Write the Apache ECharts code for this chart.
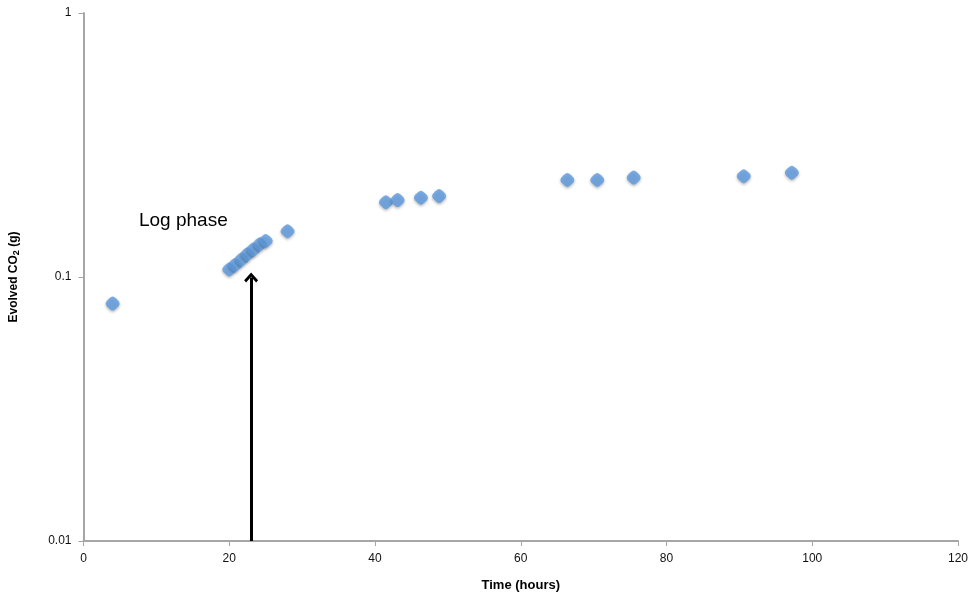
<!DOCTYPE html>
<html>
<head>
<meta charset="utf-8">
<script src="https://cdn.jsdelivr.net/npm/echarts@6/dist/echarts.min.js"></script>
<style>
  html, body { margin: 0; padding: 0; background: #fff; }
  #chart { width: 975px; height: 602px; }
</style>
</head>
<body>
<div id="chart"></div>
<script>
// time (hours) vs evolved CO2 (g)
const hours = [4, 20, 20.8, 21.7, 22.5, 23.3, 24.2, 25, 28, 41.5, 43.1, 46.3, 48.8, 66.4, 70.5, 75.5, 90.6, 97.2];
const co2 = [0.0793, 0.1068, 0.111, 0.1166, 0.122, 0.127, 0.133, 0.137, 0.149, 0.192, 0.1956, 0.1998, 0.2025, 0.233, 0.233, 0.238, 0.241, 0.2485];
const xTicks = [0, 20, 40, 60, 80, 100, 120];
const yTicks = [0.01, 0.1, 1];

// annotation: arrow at t = 23 h pointing up to the log phase
const arrowX = 23;
const arrowFrom = 0.01;
const arrowTo = 0.0996;
const noteText = 'Log phase';
const notePos = [13.7, 0.163];

const chart = echarts.init(document.getElementById('chart'));
const font = 'Liberation Sans, Arial, sans-serif';

const option = {
  animation: false,
  grid: { left: 82, right: 17, top: 13, bottom: 61 },
  xAxis: {
    type: 'value',
    min: xTicks[0],
    max: xTicks[xTicks.length - 1],
    interval: 20,
    name: 'Time (hours)',
    nameLocation: 'middle',
    nameGap: 38,
    nameTextStyle: { fontFamily: font, fontWeight: 'bold', fontSize: 13, color: '#000' },
    axisLine: { lineStyle: { color: '#a6a6a6', width: 2 } },
    axisTick: { show: true, length: 5, lineStyle: { color: '#a6a6a6', width: 1 } },
    axisLabel: { fontFamily: font, fontSize: 12, color: '#111', margin: 12 },
    splitLine: { show: false }
  },
  yAxis: {
    type: 'log',
    logBase: 10,
    min: yTicks[0],
    max: yTicks[yTicks.length - 1],
    name: '{a|Evolved CO}{s|2}{a| (g)}',
    nameLocation: 'middle',
    nameGap: 62,
    nameRotate: 90,
    nameTextStyle: {
      rich: {
        a: { fontFamily: font, fontWeight: 'bold', fontSize: 12, color: '#000' },
        s: { fontFamily: font, fontWeight: 'bold', fontSize: 9, color: '#000', verticalAlign: 'bottom', padding: [6, 0, 0, 0] }
      }
    },
    axisLine: { show: true, lineStyle: { color: '#a6a6a6', width: 2 } },
    axisTick: { show: true, length: 5, lineStyle: { color: '#a6a6a6', width: 1 } },
    minorTick: { show: false },
    axisLabel: {
      fontFamily: font, fontSize: 12, color: '#111', margin: 12,
      formatter: v => String(+v.toPrecision(3))
    },
    splitLine: { show: false }
  },
  series: [{
    type: 'scatter',
    data: hours.map((h, i) => [h, co2[i]]),
    symbol: 'path://M0,-10 Q2,-10 7,-4 Q10,0 7,4 Q2,10 0,10 Q-2,10 -7,4 Q-10,0 -7,-4 Q-2,-10 0,-10 Z',
    symbolSize: 14,
    itemStyle: {
      color: '#5d9be0',
      shadowColor: 'rgba(0,0,0,0.35)',
      shadowBlur: 3,
      shadowOffsetY: 1.5
    },
    markLine: {
      silent: true,
      // open chevron arrow head
      symbol: ['none', 'path://M0,0 L7,7.5 L5,9.5 L0,4 L-5,9.5 L-7,7.5 Z'],
      symbolSize: [14, 10],
      symbolOffset: [0, 0],
      label: { show: false },
      lineStyle: { color: '#000', width: 3, type: 'solid' },
      data: [[{ coord: [arrowX, arrowFrom] }, { coord: [arrowX, arrowTo] }]]
    },
    markPoint: {
      silent: true,
      symbol: 'circle',
      symbolSize: 0,
      itemStyle: { color: 'transparent' },
      label: {
        show: true, position: 'inside', formatter: noteText,
        fontFamily: font, fontSize: 19, color: '#000'
      },
      data: [{ coord: notePos }]
    }
  }]
};

chart.setOption(option);
</script>
</body>
</html>
